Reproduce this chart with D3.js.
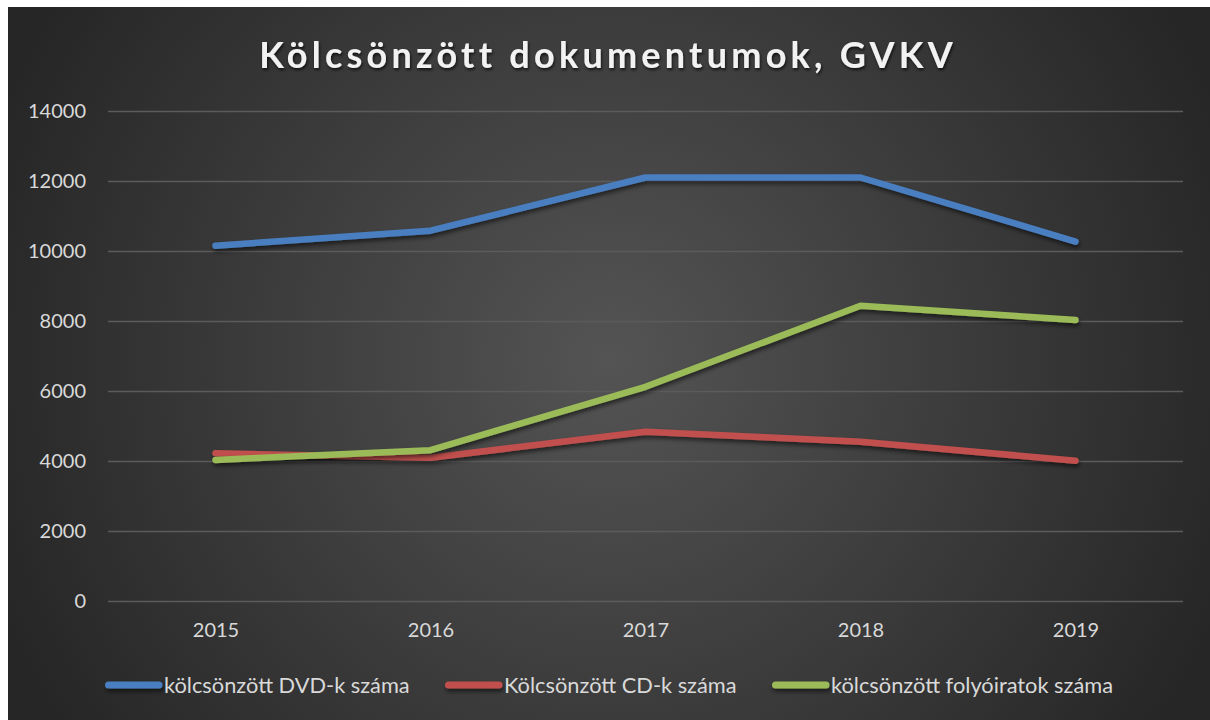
<!DOCTYPE html>
<html><head><meta charset="utf-8">
<script src="https://cdn.jsdelivr.net/npm/d3@7"></script>
<style>html,body{margin:0;padding:0;background:#fff;}svg{display:block;}</style>
</head><body>
<script>
const years = ["2015","2016","2017","2018","2019"];
const dvd = [10150, 10580, 12100, 12100, 10270];
const cd = [4220, 4095, 4835, 4550, 4010];
const folyo = [4030, 4310, 6120, 8435, 8030];
const seriesNames = ["kölcsönzött DVD-k száma","Kölcsönzött CD-k száma","kölcsönzött folyóiratok száma"];
const seriesColors = ["#4a7fc1","#c0504d","#9bbb59"];
const yTicks = [0,2000,4000,6000,8000,10000,12000,14000];
const title = "Kölcsönzött dokumentumok, GVKV";

const W = 1210, H = 720;
const svg = d3.select("body").append("svg").attr("width",W).attr("height",H);
const defs = svg.append("defs");
const rg = defs.append("radialGradient").attr("id","bg").attr("gradientUnits","userSpaceOnUse")
  .attr("cx",610).attr("cy",360).attr("r",660);
rg.append("stop").attr("offset","0%").attr("stop-color","#545454");
rg.append("stop").attr("offset","100%").attr("stop-color","#262626");
const sh = defs.append("filter").attr("id","sh").attr("filterUnits","userSpaceOnUse")
  .attr("x",-W).attr("y",-H).attr("width",3*W).attr("height",3*H);
sh.append("feDropShadow").attr("dx",1).attr("dy",3).attr("stdDeviation",2).attr("flood-color","#000").attr("flood-opacity",0.55);
const tsh = defs.append("filter").attr("id","tsh").attr("filterUnits","userSpaceOnUse")
  .attr("x",-W).attr("y",-H).attr("width",3*W).attr("height",3*H);
tsh.append("feDropShadow").attr("dx",1).attr("dy",2).attr("stdDeviation",1.5).attr("flood-color","#000").attr("flood-opacity",0.7);

svg.append("rect").attr("x",8).attr("y",7).attr("width",W-8).attr("height",H-7).attr("fill","url(#bg)");

const font = "Lato, 'Open Sans', sans-serif";
const x = d3.scalePoint().domain(years).range([108,1183]).padding(0.5);
const y = d3.scaleLinear().domain([0,14000]).range([601,111]);

// gridlines
const yAxis = d3.axisLeft(y).tickValues(yTicks).tickSize(-(1183-108)).tickPadding(22).tickFormat(d3.format("d"));
const gy = svg.append("g").attr("transform","translate(108,0)").call(yAxis);
gy.select(".domain").remove();
gy.selectAll(".tick line").attr("stroke","#5b5b5b").attr("stroke-width",1.3);
gy.selectAll(".tick text").attr("fill","#d9d9d9").attr("font-family",font).attr("font-size",20).attr("x",-22);

const xAxis = d3.axisBottom(x).tickSize(0).tickPadding(22);
const gx = svg.append("g").attr("transform","translate(0,601)").call(xAxis);
gx.select(".domain").remove();
gx.selectAll(".tick text").attr("fill","#d9d9d9").attr("font-family",font).attr("font-size",20);

const line = d3.line().x((d,i)=>x(years[i])).y(d=>y(d));
[dvd,cd,folyo].forEach((s,k)=>{
  svg.append("path").datum(s).attr("d",line).attr("fill","none").attr("stroke",seriesColors[k])
    .attr("stroke-width",6.5).attr("stroke-linecap","round").attr("stroke-linejoin","round").attr("filter","url(#sh)");
});

// title
const t = svg.append("text").attr("x",606).attr("y",68).attr("text-anchor","middle")
  .attr("fill","#f2f2f2").attr("font-family",font).attr("font-weight","bold").attr("font-size",36)
  .attr("filter","url(#tsh)").text(title);
const tw = t.node().getComputedTextLength();
const ls = (692 - tw)/(title.length-1);
t.attr("letter-spacing",ls).attr("x",606+ls/2);

// legend
const legX = [105, 445, 772];
const lg = svg.append("g");
seriesNames.forEach((n,k)=>{
  const g = lg.append("g").attr("transform",`translate(${legX[k]},685)`);
  g.append("line").attr("x1",3.5).attr("x2",54).attr("y1",0).attr("y2",0).attr("stroke",seriesColors[k])
    .attr("stroke-width",7).attr("stroke-linecap","round").attr("filter","url(#sh)");
  g.append("text").attr("x",59).attr("y",8).attr("fill","#d9d9d9").attr("font-family",font).attr("font-size",21.8).text(n);
});
</script>
</body></html>
